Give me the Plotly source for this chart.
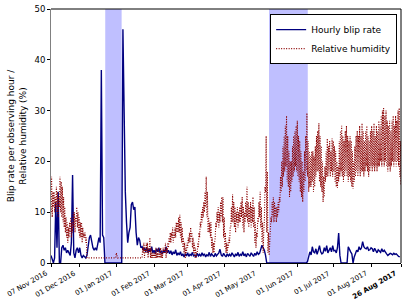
import pandas as pd
import plotly.graph_objects as go

start_date = "2016-11-07"
end_date = "2017-08-26"

# Hourly blip rate, one value per day from 07 Nov 2016
blip_rate = [
    1.5, 0.5, 0, 1, 12, 3, 14, 0, 0, 3,
    3.5, 2.5, 3, 2, 2.5, 2, 1.5, 4, 17.3, 2,
    1, 2.5, 3, 2, 3, 1.5, 1, 1.5, 1.2, 1,
    1.5, 3, 5, 5.5, 4, 3, 2.5, 3, 2.5, 3.5,
    5, 4, 38, 5.5, 5, 0, 0, 0, 0, 0,
    0, 0, 0, 0, 0, 0, 0, 0, 0, 0,
    46, 25, 14, 8, 4, 6, 7, 11.5, 12, 10.5,
    11, 6, 3.5, 5, 4.5, 3, 3.2, 2.5, 3, 2.2,
    3, 2, 2.8, 2.2, 3.2, 2, 2.5, 1.8, 2.8, 2.2,
    3, 2, 2.4, 1.8, 2.6, 2, 3.2, 2, 2.5, 1.8,
    2.4, 1.6, 2.2, 1.8, 2.6, 1.5, 2, 1.6, 2.2, 1.4,
    1.8, 1.2, 1.8, 1.4, 2, 1.3, 1.7, 1.5, 2.1, 1.3,
    1.6, 1.2, 1.9, 1.4, 1.7, 1.3, 2, 1.5, 1.8, 1.2,
    1.6, 1.4, 2.1, 1.3, 1.8, 1.5, 1.2, 1.9, 1.4, 1.7,
    2, 2.7, 1.6, 1.3, 1.9, 1.5, 1.2, 1.8, 1.4, 1.7,
    1.3, 2, 1.5, 1.2, 1.8, 1.4, 2.1, 1.3, 1.7, 1.5,
    2.2, 1.4, 1.8, 1.2, 1.9, 1.5, 1.3, 2, 1.6, 1.3,
    1.9, 1.5, 2.2, 1.7, 1.9, 2.5, 3.5, 3, 2.5, 1.5,
    0, 0, 0, 0, 0, 0, 0, 0, 0, 0,
    0, 0, 0, 0, 0, 0, 0, 0, 0, 0,
    0, 0, 0, 0, 0, 0, 0, 0, 0, 0,
    0, 0, 0, 0, 0.3, 1.5, 2.2, 1.6, 3.2, 2.2,
    2, 2.8, 1.7, 2.5, 3.4, 2.2, 1.8, 2, 3, 2.3,
    3.4, 2, 2.5, 3, 2.2, 3.4, 2.4, 2.5, 2, 3,
    5.9, 1.5, 0, 0, 0, 0, 0, 0, 3.2, 2.5,
    2.2, 1.8, 0, 1.2, 2, 2.5, 2.2, 3.2, 2.6, 3,
    4.2, 3.2, 2.9, 2.8, 3.2, 2.5, 2.6, 3, 2.8, 2.2,
    2.9, 2.4, 2, 2.6, 2.3, 2.1, 2.8, 2.2, 2.5, 2,
    1.8, 1.5, 1.7, 1.9, 1.8, 1.6, 1.9, 1.7, 1.8, 1.5,
    1.3, 1.2,
]

# Relative humidity: daily low and high, one pair per day from 07 Nov 2016
hum_lo = [
    10, 9, 11, 10, 11, 10, 9, 11, 10, 9,
    8, 7, 6, 5, 4, 5, 6, 5, 6, 7,
    6, 8, 7, 6, 5, 5, 4, 5, 5, 4,
    1, 1, 1, 1, 1, 1, 1, 1, 1, 1,
    1, 1, 1, 1, 1, 1, 1, 1, 1, 1,
    1, 1, 1, 1, 1, 1, 1, 1, 1, 1,
    1, 1, 1, 1, 1, 1, 1, 1, 1, 1,
    1, 1, 1, 1, 1, 1, 1, 2, 1, 2,
    2, 1, 2, 1, 1, 1, 1, 1, 1, 1,
    1, 1, 1, 1, 2, 2, 1, 2, 3, 4,
    4, 5, 4, 5, 5, 6, 6, 6, 5, 4,
    3, 2, 1, 2, 3, 4, 4, 5, 3, 2,
    1, 1, 2, 3, 5, 7, 8, 9, 10, 11,
    9, 6, 6, 5, 3, 2, 2, 5, 7, 8,
    7, 8, 9, 8, 5, 3, 2, 2, 3, 4,
    7, 8, 8, 7, 6, 8, 7, 8, 8, 9,
    7, 6, 8, 9, 8, 7, 8, 7, 8, 7,
    4, 3, 5, 8, 9, 7, 4, 2, 8, 14,
    6, 2, 1.5, 5, 8, 9, 8, 9, 8, 9,
    10, 12, 14, 15, 17, 18, 19, 16, 15, 13,
    14, 16, 17, 18, 19, 18, 17, 16, 14, 13,
    12, 14, 16, 18, 17, 14, 15, 15, 16, 14,
    15, 17, 18, 18, 16, 15, 14, 12, 13, 16,
    17, 17, 18, 17, 18, 17, 18, 16, 15, 14.8,
    16, 17, 18, 17, 16, 17, 18, 17, 16, 17,
    16, 15, 14.6, 16, 17, 18, 17, 18, 17, 18,
    18, 17, 18, 19, 18, 17, 18, 19, 18, 19,
    18, 19, 18, 19, 19, 20, 19, 20, 19, 20,
    19, 18, 19, 18, 19, 20, 19, 20, 19, 20,
    19, 17, 15.4,
]
hum_hi = [
    17, 14, 14, 13, 15, 14, 13, 17, 16, 15,
    13, 11, 9, 8, 7, 8, 9, 8, 10, 10,
    9, 11, 10, 9, 8, 8, 7, 6, 6, 5,
    1, 1, 1, 1, 1, 1, 1, 1, 1, 1,
    1, 1, 1, 1, 1, 1, 1, 1, 1, 1,
    1, 1, 1, 1, 2, 1, 1, 1, 1, 1,
    1, 1, 1, 1, 1, 1, 1, 1, 1, 1,
    1, 1, 1, 1, 1, 1, 3, 4, 3, 4,
    4, 3, 5, 3, 2, 2, 2, 3, 2, 3,
    2, 3, 2, 3, 3, 4, 3, 4, 5, 6,
    6, 7, 6, 7, 8, 8, 9, 9.5, 8, 7,
    5, 4, 3, 4, 5, 6, 7, 6, 5, 4,
    3, 2, 4, 6, 8, 10, 11, 12, 14, 17,
    14, 9, 8, 8, 5, 4, 4, 8, 10, 11,
    10, 12, 13, 13, 9, 6, 4, 4, 5, 7,
    11, 13.5, 12, 11, 10, 11, 10, 11, 12, 13,
    11, 10, 12, 15, 12, 11, 12, 11, 13, 11,
    8, 6, 9, 12, 14, 11, 8, 6, 15, 25,
    18, 6, 4, 9, 12, 13, 12, 11, 11, 12,
    13, 17, 20, 23, 25, 27, 29, 25, 22, 20,
    20, 23, 25, 26, 27, 28, 25, 24, 22, 20,
    18, 22, 25, 29.5, 24, 22, 21, 22, 22, 21,
    23, 25, 26, 27.5, 25, 23, 20, 17, 19, 22,
    24.5, 23, 24, 22, 24.5, 24, 23, 22, 20, 19,
    24, 26, 27, 25, 24, 26, 27, 25, 24, 25,
    24, 22, 20, 23, 25, 26, 25, 27, 25, 27.5,
    26, 24, 26, 27, 25, 24, 26, 27, 26, 27.5,
    25, 27, 26, 28, 27, 29, 30, 30.5, 29, 30,
    28, 27, 28, 26, 28, 29, 27, 29, 28, 30,
    30.5, 24, 20,
]

shade_starts = ["2016-12-22 06:00", "2017-05-07 22:00"]
shade_ends = ["2017-01-04 22:00", "2017-06-09 05:00"]

tick_dates = ["2016-11-07", "2016-12-01", "2017-01-01", "2017-02-01", "2017-03-01",
              "2017-04-01", "2017-05-01", "2017-06-01", "2017-07-01", "2017-08-01",
              "2017-08-26"]
tick_labels = ["07 Nov 2016", "01 Dec 2016", "01 Jan 2017", "01 Feb 2017", "01 Mar 2017",
               "01 Apr 2017", "01 May 2017", "01 Jun 2017", "01 Jul 2017", "01 Aug 2017",
               "<b>26 Aug 2017</b>"]
y_ticks = [0, 10, 20, 30, 40, 50]

blip_x = pd.date_range(start_date, periods=len(blip_rate), freq="D")
hum_days = pd.date_range(start_date, periods=len(hum_lo), freq="D")
hum_x, hum_y = [], []
for d, lo, hi in zip(hum_days, hum_lo, hum_hi):
    hum_x += [d, d + pd.Timedelta(hours=12)]
    hum_y += [lo, hi]

fig = go.Figure()
for s, e in zip(shade_starts, shade_ends):
    fig.add_vrect(x0=s, x1=e, fillcolor="#bfbfff", opacity=1, line_width=0, layer="below")

fig.add_trace(go.Scatter(x=blip_x, y=blip_rate, mode="lines", name="Hourly blip rate",
                         line=dict(color="#000080", width=1.4)))
fig.add_trace(go.Scatter(x=hum_x, y=hum_y, mode="lines", name="Relative humidity",
                         line=dict(color="#8b0000", width=1.1, dash="1px,1.5px")))

fig.add_shape(type="line", xref="paper", yref="paper", x0=0, x1=1, y0=1, y1=1,
              line=dict(color="black", width=1))
fig.add_shape(type="line", xref="paper", yref="paper", x0=1, x1=1, y0=0, y1=1,
              line=dict(color="black", width=1))

# rotated date labels, right end at each tick (matplotlib autofmt style)
for tv, tl in zip(tick_dates, tick_labels):
    fig.add_annotation(x=tv, xref="x", y=0, yref="paper", text=tl, showarrow=False,
                       textangle=-30, xanchor="right", yanchor="top",
                       xshift=-1, yshift=-5, borderpad=0,
                       font=dict(family="DejaVu Sans", size=7, color="black"))

fig.update_layout(
    width=407, height=305,
    margin=dict(l=51, r=6, t=9, b=42),
    paper_bgcolor="white", plot_bgcolor="white",
    font=dict(family="DejaVu Sans", size=9, color="black"),
    legend=dict(x=0.989, xanchor="right", y=0.98, yanchor="top",
                bordercolor="black", borderwidth=1, bgcolor="white",
                font=dict(size=9), tracegroupgap=0, itemwidth=30),
)
fig.update_xaxes(type="date", range=[start_date, end_date], tickvals=tick_dates,
                 showticklabels=False, ticks="outside", ticklen=3,
                 tickcolor="black", showgrid=False, zeroline=False, showline=True,
                 linecolor="black", linewidth=1, automargin=False)
fig.update_yaxes(range=[0, 50], tickvals=y_ticks, ticks="outside", ticklen=3,
                 tickcolor="black", showgrid=False, zeroline=False, showline=True,
                 linecolor="#808080", linewidth=1, automargin=False,
                 tickfont=dict(size=8.5),
                 title=dict(text="Blip rate per observing hour /<br>Relative humidity (%)",
                            font=dict(size=9), standoff=6))

fig.write_html("out.html", config={"displayModeBar": False},
               post_script="document.body.style.margin='0';")
